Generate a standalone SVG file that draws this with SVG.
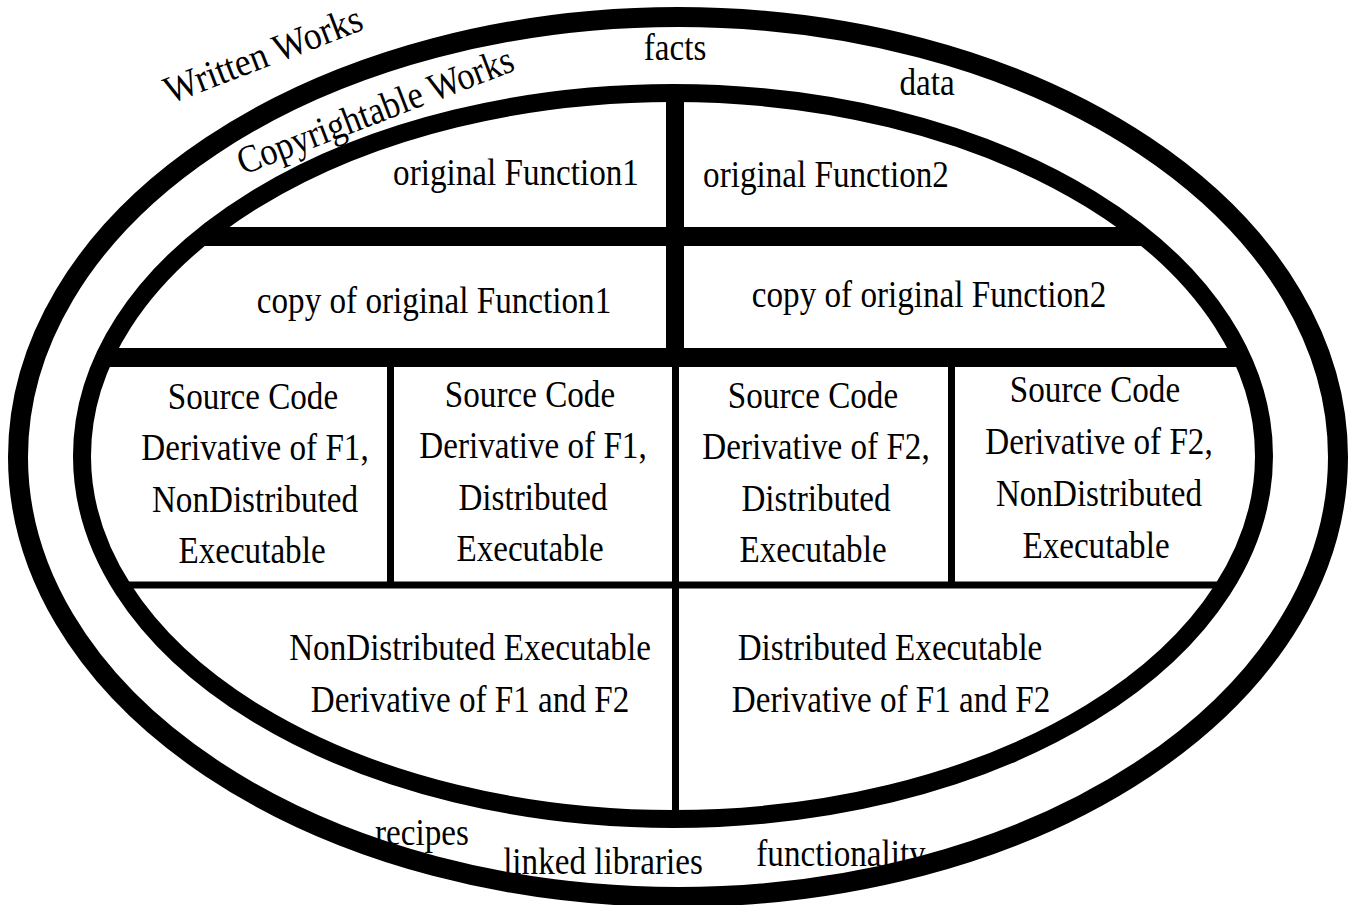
<svg xmlns="http://www.w3.org/2000/svg" width="1351" height="905" viewBox="0 0 1351 905">
  <style>
    /* tall, narrow serif lettering: a 39px face squeezed horizontally by the transforms */
    text { font-family: "Liberation Serif", "Times New Roman", serif; font-size: 39px; fill: #000; }
    .mid { text-anchor: middle; }
    .ring { fill: none; stroke: #000; }
    .rule { stroke: #000; fill: none; }
  </style>
  <defs>
    <clipPath id="innerClip">
      <ellipse cx="673" cy="456" rx="591" ry="363"/>
    </clipPath>
  </defs>
  <rect width="1351" height="905" fill="#fff"/>

  <!-- labels of the outer bands -->
  <g id="written-works"><text transform="translate(170 104) rotate(-21) scale(0.92 1)">Written Works</text></g>
  <g id="copyrightable-works"><text transform="translate(243 175) rotate(-21) scale(0.88 1)">Copyrightable Works</text></g>
  <g id="facts"><text class="mid" transform="translate(675 60) scale(0.85 1)">facts</text></g>
  <g id="data"><text class="mid" transform="translate(927 95) scale(0.85 1)">data</text></g>
  <g id="recipes"><text class="mid" transform="translate(422 845) scale(0.85 1)">recipes</text></g>
  <g id="linked-libraries"><text class="mid" transform="translate(603 874) scale(0.85 1)">linked libraries</text></g>
  <g id="functionality"><text class="mid" transform="translate(841 866) scale(0.85 1)">functionality</text></g>

  <!-- inner cells -->
  <g id="orig-f1"><text class="mid" transform="translate(516 185) scale(0.85 1)">original Function1</text></g>
  <g id="orig-f2"><text class="mid" transform="translate(826 187) scale(0.85 1)">original Function2</text></g>
  <g id="copy-f1"><text class="mid" transform="translate(434 313) scale(0.85 1)">copy of original Function1</text></g>
  <g id="copy-f2"><text class="mid" transform="translate(929 307) scale(0.85 1)">copy of original Function2</text></g>

  <g id="src-f1-nd">
    <text class="mid" transform="translate(253 409) scale(0.85 1)">Source Code</text>
    <text class="mid" transform="translate(255 460) scale(0.85 1)">Derivative of F1,</text>
    <text class="mid" transform="translate(255 512) scale(0.85 1)">NonDistributed</text>
    <text class="mid" transform="translate(252 563) scale(0.85 1)">Executable</text>
  </g>
  <g id="src-f1-d">
    <text class="mid" transform="translate(530 407) scale(0.85 1)">Source Code</text>
    <text class="mid" transform="translate(533 458) scale(0.85 1)">Derivative of F1,</text>
    <text class="mid" transform="translate(533 510) scale(0.85 1)">Distributed</text>
    <text class="mid" transform="translate(530 561) scale(0.85 1)">Executable</text>
  </g>
  <g id="src-f2-d">
    <text class="mid" transform="translate(813 408) scale(0.85 1)">Source Code</text>
    <text class="mid" transform="translate(816 459) scale(0.85 1)">Derivative of F2,</text>
    <text class="mid" transform="translate(816 511) scale(0.85 1)">Distributed</text>
    <text class="mid" transform="translate(813 562) scale(0.85 1)">Executable</text>
  </g>
  <g id="src-f2-nd">
    <text class="mid" transform="translate(1095 402) scale(0.85 1)">Source Code</text>
    <text class="mid" transform="translate(1099 454) scale(0.85 1)">Derivative of F2,</text>
    <text class="mid" transform="translate(1099 506) scale(0.85 1)">NonDistributed</text>
    <text class="mid" transform="translate(1096 558) scale(0.85 1)">Executable</text>
  </g>
  <g id="exe-nd">
    <text class="mid" transform="translate(470 660) scale(0.85 1)">NonDistributed Executable</text>
    <text class="mid" transform="translate(470 712) scale(0.85 1)">Derivative of F1 and F2</text>
  </g>
  <g id="exe-d">
    <text class="mid" transform="translate(890 660) scale(0.85 1)">Distributed Executable</text>
    <text class="mid" transform="translate(891 712) scale(0.85 1)">Derivative of F1 and F2</text>
  </g>

  <!-- dividing rules, clipped to the inner ring -->
  <g id="connectors" clip-path="url(#innerClip)">
    <line class="rule" x1="60" y1="236.5" x2="1290" y2="236.5" stroke-width="19"/>
    <line class="rule" x1="60" y1="357.5" x2="1290" y2="357.5" stroke-width="19"/>
    <line class="rule" x1="60" y1="585" x2="1290" y2="585" stroke-width="7"/>
    <line class="rule" x1="675" y1="80" x2="675" y2="365" stroke-width="18"/>
    <line class="rule" x1="675.5" y1="357" x2="675.5" y2="830" stroke-width="7"/>
    <line class="rule" x1="390.5" y1="357" x2="390.5" y2="585" stroke-width="7"/>
    <line class="rule" x1="951.5" y1="357" x2="951.5" y2="585" stroke-width="7"/>
  </g>

  <!-- rings -->
  <g id="outer-ring"><ellipse class="ring" cx="678" cy="457" rx="660" ry="440" stroke-width="20"/></g>
  <g id="inner-ring"><ellipse class="ring" cx="673" cy="456" rx="591" ry="363" stroke-width="18"/></g>
</svg>
